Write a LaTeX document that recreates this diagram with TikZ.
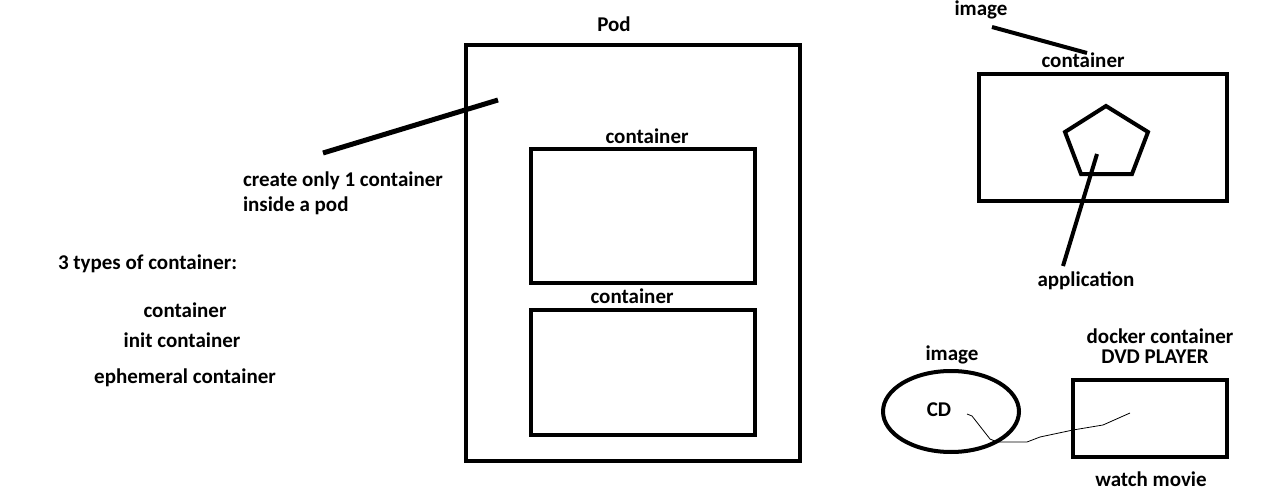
\documentclass[tikz,border=0pt]{standalone}
\usepackage{fontspec}
\setmainfont{Carlito}
\usetikzlibrary{positioning, shapes.geometric}

\begin{document}
\begin{tikzpicture}[x=1pt, y=-1pt,
  lbl/.style={font=\fontsize{21}{23}\selectfont\bfseries, inner sep=0, outer sep=0, anchor=base},
  box/.style={draw, line width=4, inner sep=0}]

  \useasboundingbox (0,0) rectangle (1286,503);

  % the pod and its containers
  \node[box, minimum width=334, minimum height=416] (pod) at (633,253) {};
  \node[lbl] (podlbl) at (614,32) {Pod};
  \node[box, minimum width=224, minimum height=134] (c1) at (643,216) {};
  \node[box, minimum width=224, minimum height=125] (c2) at (643,372.5) {};
  \node[lbl] (c1lbl) at (647,143) {container};
  \node[lbl] (c2lbl) at (632,303) {container};

  \node[lbl, anchor=base west] (only1) at (243,186) {create only 1 container};
  \node[lbl, anchor=base west] (insidepod) at (243,211) {inside a pod};
  \coordinate (p0) at (323,153);
  \coordinate (p1) at (498,100);
  \draw[line width=5] (p0) -- (p1);

  % the three types
  \node[lbl, anchor=base west] (types) at (58,269) {3 types of container:};
  \node[lbl] (t1) at (185,317) {container};
  \node[lbl] (t2) at (182,347) {init container};
  \node[lbl] (t3) at (185,383) {ephemeral container};

  % container with an application
  \node[box, minimum width=248, minimum height=127] (rc) at (1103,137.5) {};
  \node[lbl] (rclbl) at (1083,67) {container};
  \node[lbl] (img) at (981,16) {image};
  \coordinate (i0) at (992,27);
  \coordinate (i1) at (1087,53);
  \draw[line width=4] (i0) -- (i1);
  \draw[line width=4, line join=miter] (1106,106) -- (1148,132) -- (1132,174)
    -- (1081,174) -- (1065,132) -- cycle;
  \node[lbl] (app) at (1086,286) {application};
  \coordinate (a0) at (1097,154);
  \coordinate (a1) at (1063,266);
  \draw[line width=4] (a0) -- (a1);

  % docker as a dvd player
  \node[draw, line width=4, ellipse, minimum width=136, minimum height=81, inner sep=0] (cdimg) at (951,411.5) {};
  \node[lbl] (img2) at (952,360) {image};
  \node[lbl] (cd) at (939,416) {CD};
  \node[box, minimum width=154, minimum height=77] (dvd) at (1150,418.5) {};
  \node[lbl] (dock) at (1160,343) {docker container};
  \node[lbl] (dvdlbl) at (1155,363) {DVD PLAYER};
  \node[lbl] (watch) at (1151,486) {watch movie};
  \coordinate (w0) at (967,414);
  \coordinate (w1) at (1130,413);
  \draw[line width=0.8] (w0) -- (972,416) -- (990,439) -- (997,442) -- (1027,442)
    -- (1040,437) -- (1073,430) -- (1103,425) -- (w1);

\end{tikzpicture}
\end{document}
